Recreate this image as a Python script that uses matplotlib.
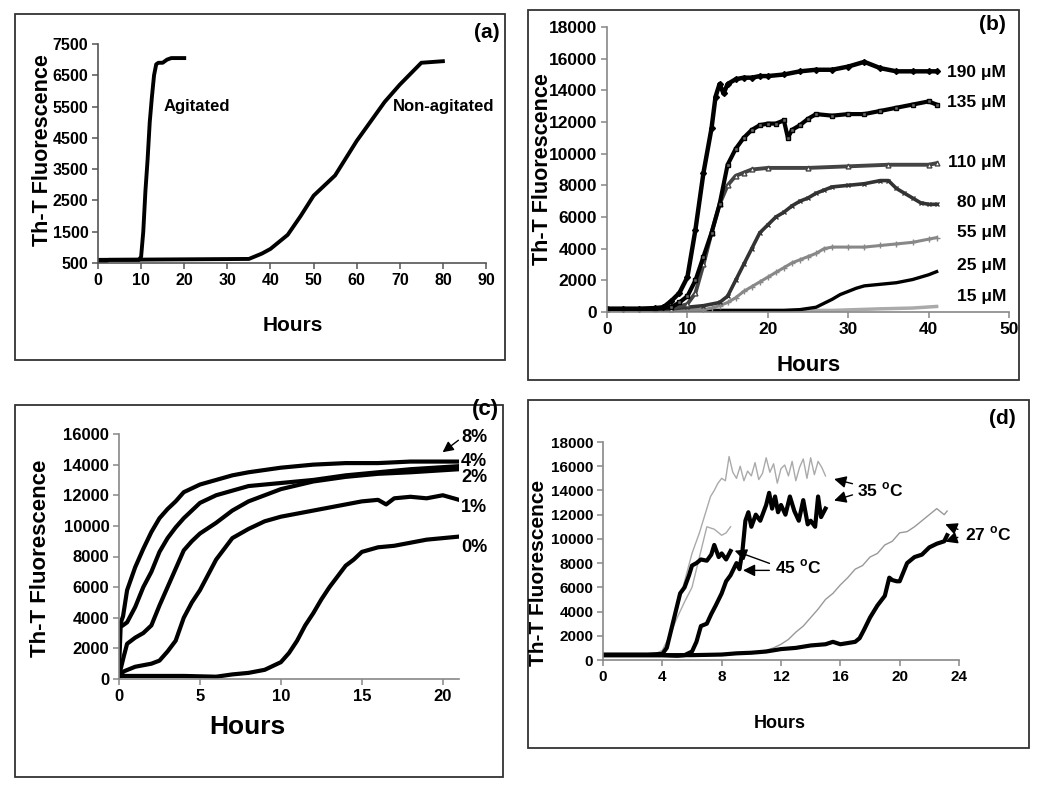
import matplotlib
matplotlib.use("Agg")
import matplotlib.pyplot as plt
from matplotlib import font_manager
from matplotlib.patches import Rectangle

# ---------------- data ----------------
# (a)
a_ag_hours = [0, 2, 2.5, 9.5, 10, 10.5, 11, 11.5, 12, 12.5, 13, 13.5, 14, 15, 16, 17, 20]
a_ag_vals = [560, 560, 600, 600, 700, 1500, 2800, 3800, 5000, 5800, 6500, 6850, 6900, 6900, 7000, 7050, 7050]
a_non_hours = [0, 35, 38, 40, 44, 47, 50, 55, 60, 66.5, 70, 75, 80]
a_non_vals = [600, 630, 800, 950, 1400, 2000, 2650, 3300, 4400, 5650, 6200, 6900, 6950]
a_xticks = [0, 10, 20, 30, 40, 50, 60, 70, 80, 90]
a_yticks = [500, 1500, 2500, 3500, 4500, 5500, 6500, 7500]

# (b)
b_190_h = [0, 2, 4, 6, 7, 8, 9, 10, 11, 12, 13, 13.5, 14, 14.5, 15, 16, 17, 18, 19, 20, 22, 24, 26, 28, 30, 32, 34, 36, 38, 40, 41]
b_190_v = [200, 200, 200, 250, 300, 700, 1200, 2200, 5200, 8800, 11600, 13600, 14400, 13800, 14400, 14700, 14800, 14800, 14900, 14900, 15000, 15200, 15300, 15300, 15500, 15800, 15400, 15200, 15200, 15200, 15200]
b_135_h = [0, 6, 8, 9, 10, 11, 12, 13, 14, 15, 16, 17, 18, 19, 20, 21, 22, 22.5, 23, 24, 25, 26, 28, 30, 32, 34, 36, 38, 40, 41]
b_135_v = [200, 200, 300, 600, 1000, 2000, 3500, 5000, 6800, 9300, 10300, 11000, 11500, 11800, 11900, 11900, 12100, 11000, 11500, 11800, 12200, 12500, 12400, 12500, 12500, 12700, 12900, 13100, 13300, 13100]
b_110_h = [0, 8, 10, 11, 12, 13, 14, 15, 16, 17, 18, 20, 25, 30, 35, 40, 41]
b_110_v = [200, 200, 500, 1200, 3000, 5000, 6800, 8000, 8600, 8800, 9000, 9100, 9100, 9200, 9300, 9300, 9400]
b_80_h = [0, 8, 10, 12, 14, 15, 16, 17, 18, 19, 20, 21, 22, 23, 24, 25, 26, 27, 28, 30, 32, 34, 35, 36, 37, 38, 39, 40, 41]
b_80_v = [200, 200, 300, 400, 600, 1000, 2000, 3000, 4000, 5000, 5500, 6000, 6300, 6700, 7000, 7200, 7500, 7700, 7900, 8000, 8100, 8300, 8300, 7800, 7500, 7200, 6900, 6800, 6800]
b_55_h = [0, 12, 13, 14, 15, 16, 17, 18, 19, 20, 21, 22, 23, 24, 25, 26, 27, 28, 30, 32, 34, 36, 38, 40, 41]
b_55_v = [100, 150, 250, 400, 600, 900, 1300, 1600, 1900, 2200, 2500, 2800, 3100, 3300, 3500, 3700, 4000, 4100, 4100, 4100, 4200, 4300, 4400, 4600, 4700]
b_25_h = [0, 22, 24, 26, 27, 28, 29, 30, 31, 32, 33, 34, 36, 38, 40, 41]
b_25_v = [100, 100, 150, 300, 550, 800, 1100, 1300, 1500, 1650, 1700, 1750, 1850, 2050, 2350, 2550]
b_15_h = [0, 28, 34, 38, 41]
b_15_v = [100, 100, 200, 250, 350]
b_labels = ["190 \u03bcM", "135 \u03bcM", "110 \u03bcM", "80 \u03bcM", "55 \u03bcM", "25 \u03bcM", "15 \u03bcM"]
b_xticks = [0, 10, 20, 30, 40, 50]
b_yticks = [0, 2000, 4000, 6000, 8000, 10000, 12000, 14000, 16000, 18000]

# (c)
c_8_h = [0, 0.05, 0.25, 0.5, 1, 1.5, 2, 2.5, 3, 3.5, 4, 5, 6, 7, 8, 10, 12, 14, 16, 18, 21]
c_8_v = [2000, 3500, 4100, 5800, 7300, 8500, 9600, 10500, 11100, 11600, 12200, 12700, 13000, 13300, 13500, 13800, 14000, 14100, 14100, 14200, 14200]
c_4_h = [0, 0.1, 0.5, 1, 1.5, 2, 2.5, 3, 3.5, 4, 5, 6, 7, 8, 10, 12, 14, 16, 18, 21]
c_4_v = [600, 3400, 3700, 4700, 6000, 7000, 8300, 9200, 9900, 10500, 11500, 12000, 12300, 12600, 12800, 13000, 13300, 13500, 13700, 13900]
c_2_h = [0, 0.3, 0.5, 1, 1.5, 2, 2.5, 3, 3.5, 4, 4.5, 5, 6, 7, 8, 9, 10, 12, 14, 16, 18, 21]
c_2_v = [200, 1500, 2300, 2700, 3000, 3500, 4800, 6000, 7200, 8400, 9000, 9500, 10200, 11000, 11600, 12000, 12400, 12900, 13200, 13400, 13500, 13700]
c_1_h = [0, 0.3, 1, 2, 2.5, 3, 3.5, 4, 4.5, 5, 5.5, 6, 6.5, 7, 8, 9, 10, 12, 14, 15, 16, 16.5, 17, 18, 19, 20, 21]
c_1_v = [200, 500, 800, 1000, 1200, 1800, 2500, 4000, 5000, 5800, 6800, 7800, 8500, 9200, 9800, 10300, 10600, 11000, 11400, 11600, 11700, 11400, 11800, 11900, 11800, 12000, 11700]
c_0_h = [0, 2, 4, 6, 7, 8, 9, 10, 10.5, 11, 11.5, 12, 12.5, 13, 13.5, 14, 14.5, 15, 16, 17, 18, 19, 20, 21]
c_0_v = [200, 200, 200, 150, 300, 400, 600, 1100, 1700, 2500, 3500, 4300, 5200, 6000, 6700, 7400, 7800, 8300, 8600, 8700, 8900, 9100, 9200, 9300]
c_labels = ["8%", "4%", "2%", "1%", "0%"]
c_xticks = [0, 5, 10, 15, 20]
c_yticks = [0, 2000, 4000, 6000, 8000, 10000, 12000, 14000, 16000]

# (d)
d_35g_h = [0, 1, 2, 3, 3.5, 4, 4.5, 5, 5.5, 6, 6.5, 7, 7.25, 7.5, 7.75, 8, 8.25, 8.5, 8.75, 9, 9.25, 9.5, 9.75, 10, 10.25, 10.5, 10.75, 11, 11.25, 11.5, 11.75, 12, 12.25, 12.5, 12.75, 13, 13.25, 13.5, 13.75, 14, 14.25, 14.5, 14.75, 15]
d_35g_v = [450, 450, 450, 450, 500, 800, 2000, 4200, 6500, 8800, 10500, 12500, 13500, 14000, 14600, 15000, 14800, 16800, 15500, 15000, 16000, 14800, 15600, 15200, 16300, 14900, 15400, 16700, 15500, 16200, 14600, 15800, 16100, 15200, 16400, 14800, 15900, 16600, 15000, 16700, 15300, 16400, 15900, 15200]
d_45g_h = [0, 1, 2, 3, 3.5, 4, 4.5, 5, 5.5, 6, 6.5, 7, 7.5, 8, 8.3, 8.6]
d_45g_v = [450, 450, 450, 450, 500, 700, 2000, 3500, 4800, 6000, 8500, 11000, 10800, 10300, 10500, 11000]
d_45k_h = [0, 1, 2, 3, 4, 4.3, 4.6, 5, 5.2, 5.5, 5.8, 6, 6.3, 6.6, 7, 7.3, 7.5, 7.8, 8, 8.3, 8.6]
d_45k_v = [450, 450, 450, 450, 500, 1000, 2500, 4500, 5500, 6000, 7000, 7800, 8000, 8300, 8200, 8700, 9500, 8500, 8800, 8300, 9000]
d_35k_h = [0, 1, 2, 3, 4, 5, 5.5, 6, 6.3, 6.6, 7, 7.3, 7.6, 8, 8.3, 8.6, 9, 9.2, 9.4, 9.6, 9.8, 10, 10.3, 10.6, 11, 11.2, 11.4, 11.6, 11.8, 12, 12.3, 12.6, 12.9, 13.2, 13.5, 13.8, 14, 14.3, 14.5, 14.7, 15]
d_35k_v = [400, 400, 400, 400, 400, 350, 400, 700, 1500, 2800, 3000, 3800, 4500, 5500, 6500, 7000, 8000, 7500, 9000, 11500, 12200, 11000, 12000, 11500, 12800, 13800, 12500, 13500, 12200, 12800, 12000, 13500, 12300, 11500, 13200, 11200, 11500, 11000, 13500, 11800, 12500]
d_27g_h = [0, 2, 4, 6, 8, 9, 10, 11, 11.5, 12, 12.5, 13, 13.5, 14, 14.5, 15, 15.5, 16, 16.5, 17, 17.5, 18, 18.5, 19, 19.5, 20, 20.5, 21, 21.5, 22, 22.5, 23, 23.2]
d_27g_v = [450, 450, 450, 450, 450, 500, 600, 800, 1000, 1300, 1700, 2300, 2800, 3500, 4200, 5000, 5500, 6200, 6800, 7500, 7800, 8500, 8800, 9500, 9800, 10500, 10600, 11000, 11500, 12000, 12500, 12000, 12300]
d_27k_h = [0, 2, 4, 6, 8, 9, 10, 11, 12, 13, 14, 15, 15.5, 16, 16.5, 17, 17.3, 17.6, 18, 18.5, 19, 19.3, 19.5, 19.8, 20, 20.5, 21, 21.5, 22, 22.5, 23, 23.2]
d_27k_v = [400, 400, 400, 400, 450, 550, 600, 700, 900, 1000, 1200, 1300, 1500, 1300, 1400, 1500, 1800, 2500, 3500, 4500, 5300, 6800, 6600, 6500, 6500, 8000, 8500, 8700, 9300, 9600, 9800, 10300]
d_xticks = [0, 4, 8, 12, 16, 20, 24]
d_yticks = [0, 2000, 4000, 6000, 8000, 10000, 12000, 14000, 16000, 18000]

# ---------------- fonts ----------------
names = {f.name for f in font_manager.fontManager.ttflist}
NARROW = ["Liberation Sans Narrow"] if "Liberation Sans Narrow" in names else ["Liberation Sans"]
REG = ["Liberation Sans", "DejaVu Sans"]
plt.rcParams["font.family"] = REG
plt.rcParams["font.weight"] = "bold"
plt.rcParams["mathtext.fontset"] = "custom"
plt.rcParams["mathtext.bf"] = "Liberation Sans:bold"
plt.rcParams["mathtext.rm"] = "Liberation Sans:bold"

W, H = 1050, 796
fig = plt.figure(figsize=(W / 100, H / 100), dpi=100)


def add_ax(l, t, r, b):
    return fig.add_axes([l / W, 1 - b / H, (r - l) / W, (b - t) / H])


def frame(l, t, r, b):
    fig.patches.append(Rectangle((l / W, 1 - b / H), (r - l) / W, (b - t) / H,
                                 transform=fig.transFigure, fill=False,
                                 edgecolor="#333333", lw=1.3))


def ftext(x, y, s, **kw):
    fig.text(x / W, 1 - y / H, s, **kw)


def style(ax, xt, yt, size, fam, spine="#777777"):
    for s in ["top", "right"]:
        ax.spines[s].set_visible(False)
    for s in ["left", "bottom"]:
        ax.spines[s].set_color(spine)
        ax.spines[s].set_linewidth(1.2)
    ax.set_xticks(xt)
    ax.set_yticks(yt)
    ax.tick_params(direction="out", length=4, width=1.1, color=spine, pad=3)
    for lab in ax.get_xticklabels() + ax.get_yticklabels():
        lab.set_fontfamily(fam)
        lab.set_fontweight("bold")
        lab.set_fontsize(size)
    ax.patch.set_alpha(0)


# ---------------- panel (a) ----------------
frame(15, 14, 505, 360)
ax = add_ax(98, 44, 486, 263)
ax.plot(a_ag_hours, a_ag_vals, color="black", lw=2.8, solid_joinstyle="round")
ax.plot(a_non_hours, a_non_vals, color="black", lw=2.8, solid_joinstyle="round")
ax.set_xlim(0, 90)
ax.set_ylim(500, 7500)
style(ax, a_xticks, a_yticks, 11.5, NARROW, spine="#555555")
ax.text(15.2, 5500, "Agitated", fontsize=12, fontweight="bold", va="center", ha="left")
ax.text(68.3, 5500, "Non-agitated", fontsize=12, fontweight="bold", va="center", ha="left", clip_on=False)
ftext(43, 150, "Th-T Fluorescence", rotation=90, ha="center", va="center", fontsize=15.5, fontweight="bold")
ftext(293, 325, "Hours", ha="center", va="center", fontsize=15, fontweight="bold", family=NARROW)
ftext(487, 32, "(a)", ha="center", va="center", fontsize=15, fontweight="bold")

# ---------------- panel (b) ----------------
frame(528, 10, 1019, 380)
ax = add_ax(607, 27, 1009, 312)
ax.plot(b_15_h, b_15_v, color="#aaaaaa", lw=2.5)
ax.plot(b_25_h, b_25_v, color="black", lw=2.4)
ax.plot(b_55_h, b_55_v, color="#888888", lw=2.2, marker="+", ms=4, mew=1.0)
ax.plot(b_80_h, b_80_v, color="#333333", lw=2.6, marker="x", ms=3.5, mew=1.0)
ax.plot(b_110_h, b_110_v, color="#444444", lw=2.8, marker="^", ms=3.5, mfc="white", mec="#444444")
ax.plot(b_135_h, b_135_v, color="black", lw=3.0, marker="s", ms=3, mfc="#666666", mec="black")
ax.plot(b_190_h, b_190_v, color="black", lw=3.2, marker="D", ms=3)
ax.set_xlim(0, 50)
ax.set_ylim(0, 18000)
style(ax, b_xticks, b_yticks, 12.5, NARROW, spine="#888888")
b_label_y = [73, 103, 163, 203, 233, 265, 297]
for lab, yy in zip(b_labels, b_label_y):
    ftext(1006, yy, lab, ha="right", va="center", fontsize=12.5, fontweight="bold")
ftext(543, 169, "Th-T Fluorescence", rotation=90, ha="center", va="center", fontsize=15.5, fontweight="bold")
ftext(809, 365, "Hours", ha="center", va="center", fontsize=16, fontweight="bold", family=NARROW)
ftext(992, 25, "(b)", ha="center", va="center", fontsize=15, fontweight="bold")

# ---------------- panel (c) ----------------
frame(15, 405, 503, 777)
ax = add_ax(119, 434, 459, 679)
for hh, vv in [(c_0_h, c_0_v), (c_1_h, c_1_v), (c_2_h, c_2_v), (c_4_h, c_4_v), (c_8_h, c_8_v)]:
    ax.plot(hh, vv, color="black", lw=3.0, solid_joinstyle="round")
ax.set_xlim(0, 21)
ax.set_ylim(0, 16000)
style(ax, c_xticks, c_yticks, 12, REG, spine="#888888")
c_label_y = [437, 462, 477, 507, 547]
for lab, yy in zip(c_labels, c_label_y):
    ftext(461, yy, lab, ha="left", va="center", fontsize=13, fontweight="bold")
ax.annotate("", xy=(19.85, 14700), xytext=(21.1, 15700),
            arrowprops=dict(arrowstyle="-|>", color="black", lw=1.0, mutation_scale=16),
            annotation_clip=False)
ftext(40, 558, "Th-T Fluorescence", rotation=90, ha="center", va="center", fontsize=16, fontweight="bold")
ftext(247, 727, "Hours", ha="center", va="center", fontsize=19, fontweight="bold", family=NARROW)
ftext(485, 410, "(c)", ha="center", va="center", fontsize=16, fontweight="bold")

# ---------------- panel (d) ----------------
frame(528, 400, 1029, 748)
ax = add_ax(603, 442, 959, 660)
ax.plot(d_35g_h, d_35g_v, color="#aaaaaa", lw=1.0)
ax.plot(d_45g_h, d_45g_v, color="#aaaaaa", lw=1.0)
ax.plot(d_27g_h, d_27g_v, color="#999999", lw=1.0)
ax.plot(d_45k_h, d_45k_v, color="black", lw=3.0)
ax.plot(d_35k_h, d_35k_v, color="black", lw=3.0)
ax.plot(d_27k_h, d_27k_v, color="black", lw=3.0)
ax.set_xlim(0, 24)
ax.set_ylim(0, 18000)
style(ax, d_xticks, d_yticks, 11, NARROW, spine="#888888")
arr = dict(arrowstyle="-|>", color="black", lw=1.0, mutation_scale=18)
ax.annotate("", xy=(15.4, 15000), xytext=(17.0, 14500), arrowprops=arr, annotation_clip=False)
ax.annotate("", xy=(15.4, 13100), xytext=(17.0, 13700), arrowprops=arr, annotation_clip=False)
ax.text(17.1, 14000, "35 $^{\\mathbf{o}}$C", fontsize=12.5, fontweight="bold", va="center", ha="left")
ax.annotate("", xy=(22.9, 11300), xytext=(24.1, 10700), arrowprops=arr, annotation_clip=False)
ax.annotate("", xy=(22.9, 9700), xytext=(24.1, 10200), arrowprops=arr, annotation_clip=False)
ax.text(24.4, 10400, "27 $^{\\mathbf{o}}$C", fontsize=12.5, fontweight="bold", va="center", ha="left", clip_on=False)
ax.annotate("", xy=(8.7, 9100), xytext=(11.4, 7900), arrowprops=arr, annotation_clip=False)
ax.annotate("", xy=(9.25, 7400), xytext=(11.4, 7400), arrowprops=arr, annotation_clip=False)
ax.text(11.6, 7700, "45 $^{\\mathbf{o}}$C", fontsize=12.5, fontweight="bold", va="center", ha="left")
ftext(538, 573, "Th-T Fluorescence", rotation=90, ha="center", va="center", fontsize=15, fontweight="bold")
ftext(780, 723, "Hours", ha="center", va="center", fontsize=13, fontweight="bold", family=NARROW)
ftext(1002, 418, "(d)", ha="center", va="center", fontsize=15, fontweight="bold")

fig.savefig("out.png", dpi=100)
